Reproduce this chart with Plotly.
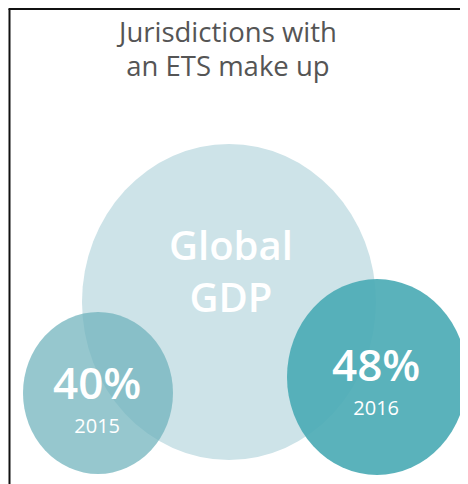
import plotly.graph_objects as go

# ---- data ----
title_lines = ["Jurisdictions with", "an ETS make up"]
center_label = ["Global", "GDP"]
shares = [40, 48]          # % of global GDP covered by an ETS
years = [2015, 2016]

# ---- layout constants (window pixel space; page body has an 8px offset) ----
W, H = 468, 484
OFF = 8
big = dict(cx=229, cy=302, rx=147, ry=158, color="#cde3e8")
small = [
    dict(cx=98, cy=393, rx=75, ry=81, color="rgb(109,177,187)", opacity=0.72, ty=395),
    dict(cx=377, cy=377, rx=90, ry=98, color="rgb(76,171,181)", opacity=0.92, ty=377),
]

fig = go.Figure()
fig.add_trace(go.Scatter(x=[OFF, W], y=[OFF, H], mode="markers",
                         marker=dict(opacity=0), hoverinfo="skip", showlegend=False))

shapes = []
shapes.append(dict(type="circle", xref="x", yref="y",
                   x0=big["cx"] - big["rx"], x1=big["cx"] + big["rx"],
                   y0=big["cy"] - big["ry"], y1=big["cy"] + big["ry"],
                   fillcolor=big["color"], line=dict(width=0), layer="below"))
for s in small:
    shapes.append(dict(type="circle", xref="x", yref="y",
                       x0=s["cx"] - s["rx"], x1=s["cx"] + s["rx"],
                       y0=s["cy"] - s["ry"], y1=s["cy"] + s["ry"],
                       fillcolor=s["color"], opacity=s["opacity"],
                       line=dict(width=0), layer="below"))
# frame lines (left and top)
shapes.append(dict(type="line", xref="x", yref="y", x0=9.5, x1=9.5,
                   y0=9, y1=H, line=dict(color="#111", width=2)))
shapes.append(dict(type="line", xref="x", yref="y", x0=8.5, x1=W,
                   y0=9, y1=9, line=dict(color="#111", width=2)))

annotations = []
annotations.append(dict(x=226, y=48, xref="x", yref="y", showarrow=False,
                        text="<span style='font-size:27.5px'>" + "<br>".join(title_lines) + "</span>",
                        font=dict(family="Open Sans", size=26.5, color="#555555"),
                        xanchor="center", yanchor="middle"))
annotations.append(dict(x=231, y=270, xref="x", yref="y", showarrow=False,
                        text="<span style='font-weight:600'>" + "<br>".join(center_label) + "</span>",
                        font=dict(family="Open Sans", size=40, color="white"),
                        xanchor="center", yanchor="middle"))
for s, v, yr in zip(small, shares, years):
    annotations.append(dict(x=s["cx"] - 1, y=s["ty"], xref="x", yref="y", showarrow=False,
                            text="<span style='font-size:44px;font-weight:600'>%d%%</span><br>"
                                 "<span style='font-size:20px'>%d</span>" % (v, yr),
                            font=dict(family="Open Sans", size=26.5, color="white"),
                            xanchor="center", yanchor="middle"))

fig.update_layout(
    width=W - OFF, height=H - OFF,
    margin=dict(l=0, r=0, t=0, b=0),
    paper_bgcolor="white", plot_bgcolor="white",
    xaxis=dict(range=[OFF, W], visible=False, fixedrange=True),
    yaxis=dict(range=[H, OFF], visible=False, fixedrange=True),
    shapes=shapes, annotations=annotations,
)
fig.write_html("out.html")
